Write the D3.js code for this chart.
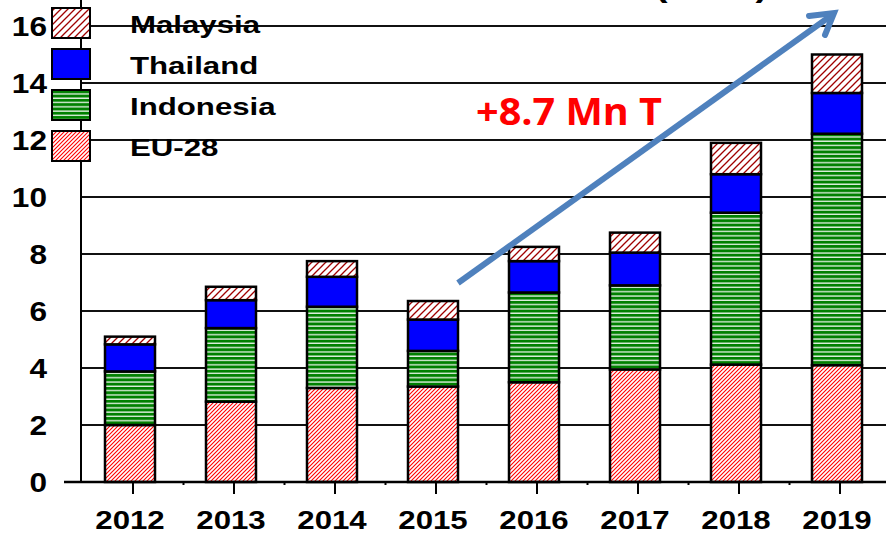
<!DOCTYPE html>
<html>
<head>
<meta charset="utf-8">
<script src="https://cdn.jsdelivr.net/npm/d3@7"></script>
<style>
  body { margin: 0; background: #fff; }
  svg { display: block; font-family: "Liberation Sans", Arial, sans-serif; }
</style>
</head>
<body>
<div id="chart"></div>
<script>
// data (million tonnes)
const years = ['2012', '2013', '2014', '2015', '2016', '2017', '2018', '2019'];
const eu28 = [2.0, 2.82, 3.3, 3.35, 3.5, 3.95, 4.12, 4.1];
const indonesia = [1.88, 2.58, 2.85, 1.25, 3.15, 2.95, 5.33, 8.12];
const thailand = [0.95, 0.98, 1.05, 1.1, 1.1, 1.15, 1.35, 1.43];
const malaysia = [0.27, 0.47, 0.55, 0.65, 0.5, 0.7, 1.1, 1.35];
const seriesNames = ['EU-28', 'Indonesia', 'Thailand', 'Malaysia'];
const yTicks = [0, 2, 4, 6, 8, 10, 12, 14, 16];

const width = 886, height = 534;
const svg = d3.select('#chart').append('svg')
  .attr('width', width).attr('height', height);

// the original text looks stretched sideways, so widen it via textLength
function stretch(sel, factor) {
  sel.each(function() {
    const w = this.getComputedTextLength();
    d3.select(this).attr('textLength', w * factor).attr('lengthAdjust', 'spacingAndGlyphs');
  });
}

// patterns for the hatched fills
const defs = svg.append('defs');
const pEu = defs.append('pattern').attr('id', 'pat-eu')
  .attr('patternUnits', 'userSpaceOnUse').attr('width', 4).attr('height', 4);
pEu.append('rect').attr('width', 4).attr('height', 4).attr('fill', '#fff');
pEu.append('path').attr('d', 'M-1,1 l2,-2 M0,4 l4,-4 M3,5 l2,-2')
  .attr('stroke', '#ff0000').attr('stroke-width', 1.1);

const pMy = defs.append('pattern').attr('id', 'pat-my')
  .attr('patternUnits', 'userSpaceOnUse').attr('width', 7).attr('height', 7);
pMy.append('rect').attr('width', 7).attr('height', 7).attr('fill', '#fff');
pMy.append('path').attr('d', 'M-1,1 l2,-2 M0,7 l7,-7 M6,8 l2,-2')
  .attr('stroke', '#a00000').attr('stroke-width', 1.3);

const pId = defs.append('pattern').attr('id', 'pat-id')
  .attr('patternUnits', 'userSpaceOnUse').attr('width', 8).attr('height', 4.3);
pId.append('rect').attr('width', 8).attr('height', 4.3).attr('fill', '#008000');
pId.append('rect').attr('y', 3).attr('width', 8).attr('height', 1.2).attr('fill', '#fff');

const fills = {
  'EU-28': 'url(#pat-eu)',
  'Indonesia': 'url(#pat-id)',
  'Thailand': '#0000ff',
  'Malaysia': 'url(#pat-my)'
};

const x = d3.scaleBand().domain(years).range([82.5, 890.5]).padding(0);
const y = d3.scaleLinear().domain([0, 16]).range([482, 26]);

// partially visible title at the very top
svg.append('text')
  .attr('x', 655).attr('y', -3)
  .attr('font-size', 30).attr('font-weight', 'bold')
  .attr('textLength', 113).attr('lengthAdjust', 'spacingAndGlyphs')
  .text('(Mn T)');

// gridlines
svg.append('g').selectAll('line')
  .data(yTicks.filter(d => d > 0))
  .join('line')
  .attr('x1', 81).attr('x2', width)
  .attr('y1', d => y(d)).attr('y2', d => y(d))
  .attr('stroke', '#111').attr('stroke-width', 2);

// stacked bars
const rows = years.map((yr, i) => ({
  year: yr,
  'EU-28': eu28[i], 'Indonesia': indonesia[i], 'Thailand': thailand[i], 'Malaysia': malaysia[i]
}));
const stack = d3.stack().keys(seriesNames)(rows);
const barW = 50;

svg.append('g').selectAll('g')
  .data(stack)
  .join('g')
  .attr('fill', d => fills[d.key])
  .selectAll('rect')
  .data(d => d)
  .join('rect')
  .attr('x', d => x(d.data.year) + x.bandwidth() / 2 - 3 - barW / 2)
  .attr('width', barW)
  .attr('y', d => y(d[1]))
  .attr('height', d => y(d[0]) - y(d[1]))
  .attr('stroke', '#000').attr('stroke-width', 2.5);

// axes
svg.append('line')
  .attr('x1', 81).attr('x2', 81).attr('y1', 0).attr('y2', 482)
  .attr('stroke', '#000').attr('stroke-width', 2);
svg.append('line')
  .attr('x1', 64).attr('x2', width).attr('y1', 482).attr('y2', 482)
  .attr('stroke', '#000').attr('stroke-width', 2.5);

// x ticks
svg.append('g').selectAll('line')
  .data(years)
  .join('line')
  .attr('x1', d => x(d) + x.bandwidth() / 2).attr('x2', d => x(d) + x.bandwidth() / 2)
  .attr('y1', 482).attr('y2', 494)
  .attr('stroke', '#000').attr('stroke-width', 2);
svg.append('g').selectAll('line')
  .data(years)
  .join('line')
  .attr('x1', d => x(d) + x.bandwidth()).attr('x2', d => x(d) + x.bandwidth())
  .attr('y1', 482).attr('y2', 485)
  .attr('stroke', '#000').attr('stroke-width', 2);

svg.append('g').selectAll('text')
  .data(years)
  .join('text')
  .attr('x', d => x(d) + x.bandwidth() / 2 - 3)
  .attr('y', 529)
  .attr('text-anchor', 'middle')
  .attr('font-size', 26).attr('font-weight', 'bold')
  .text(d => d)
  .call(stretch, 1.2);

// y tick labels
svg.append('g').selectAll('text')
  .data(yTicks)
  .join('text')
  .attr('x', 47)
  .attr('y', d => y(d) + 10)
  .attr('text-anchor', 'end')
  .attr('font-size', 27).attr('font-weight', 'bold')
  .text(d => d)
  .call(stretch, 1.17);

// legend (drawn on top of the axis, top to bottom)
const legendOrder = ['Malaysia', 'Thailand', 'Indonesia', 'EU-28'];
const legend = svg.append('g');
legendOrder.forEach((name, i) => {
  const top = 8 + i * 41;
  legend.append('rect')
    .attr('x', 52).attr('y', top).attr('width', 38).attr('height', 30)
    .attr('fill', fills[name]).attr('stroke', '#000').attr('stroke-width', 2);
  legend.append('text')
    .attr('x', 130).attr('y', top + 25)
    .attr('font-size', 24).attr('font-weight', 'bold')
    .text(name)
    .call(stretch, 1.3);
});

// growth arrow and annotation
const arrowCol = '#4f81bd';
svg.append('line')
  .attr('x1', 458).attr('y1', 283).attr('x2', 832).attr('y2', 15)
  .attr('stroke', arrowCol).attr('stroke-width', 6);
svg.append('path')
  .attr('d', 'M809,16 L834,13 L825,35')
  .attr('fill', 'none').attr('stroke', arrowCol).attr('stroke-width', 6)
  .attr('stroke-linejoin', 'miter').attr('stroke-linecap', 'round');

svg.append('text')
  .attr('x', 476).attr('y', 125)
  .attr('font-family', '"Open Sans", sans-serif')
  .attr('font-size', 38).attr('font-weight', 'bold')
  .attr('fill', '#ff0000')
  .attr('textLength', 186).attr('lengthAdjust', 'spacingAndGlyphs')
  .text('+8.7 Mn T');
</script>
</body>
</html>
